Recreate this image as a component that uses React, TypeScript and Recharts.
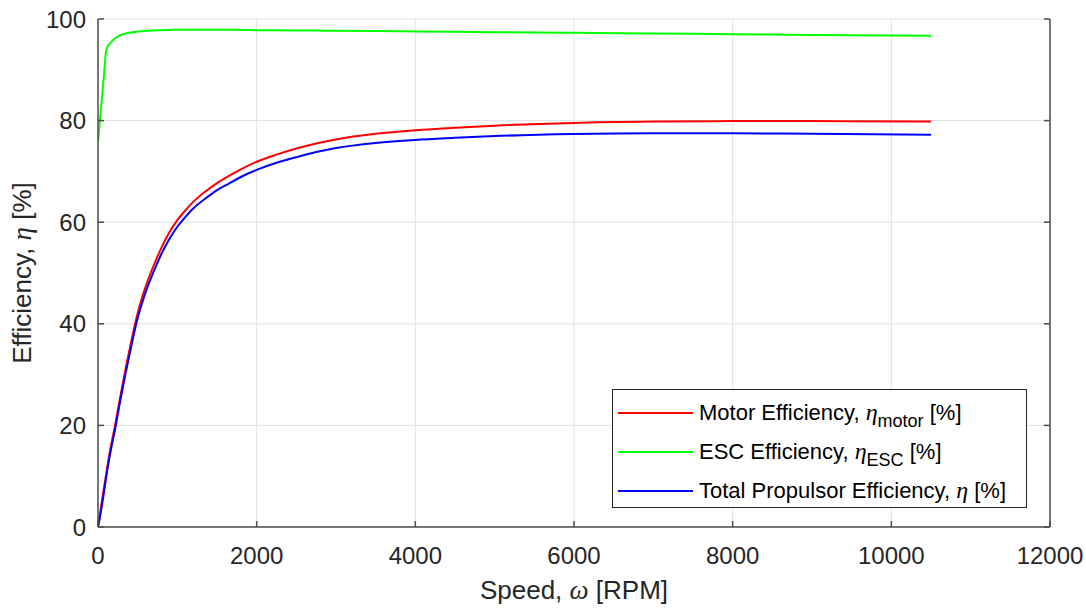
import React from "react";
import {
  LineChart,
  Line,
  XAxis,
  YAxis,
  CartesianGrid,
  Legend,
} from "recharts";

const speedRpm = [
  0, 35, 70, 105, 140, 175, 210, 280, 350, 420, 490, 560, 630, 700, 800, 900,
  1000, 1100, 1200, 1350, 1500, 1650, 1800, 2000, 2250, 2500, 2750, 3000,
  3500, 4000, 4500, 5000, 6000, 7000, 8000, 9000, 10500,
];
const motorEff = [
  0, 3.6, 7.2, 10.6, 14.0, 16.9, 19.6, 25.6, 31.3, 36.6, 41.5, 45.4, 48.6,
  51.4, 55.0, 58.0, 60.4, 62.3, 64.0, 66.0, 67.7, 69.1, 70.4, 71.9, 73.3,
  74.5, 75.5, 76.3, 77.4, 78.1, 78.6, 79.0, 79.55, 79.8, 79.9, 79.9, 79.8,
];
const escEff = [
  75.8, 81.9, 88.0, 94.0, 95.0, 95.6, 96.1, 96.8, 97.15, 97.35, 97.5, 97.6,
  97.7, 97.75, 97.8, 97.85, 97.88, 97.9, 97.9, 97.9, 97.9, 97.88, 97.85, 97.8,
  97.78, 97.75, 97.72, 97.7, 97.62, 97.55, 97.48, 97.4, 97.3, 97.15, 97.0,
  96.85, 96.7,
];
const totalEff = [
  0, 2.9, 6.3, 10.0, 13.3, 16.2, 18.8, 24.8, 30.4, 35.6, 40.5, 44.3, 47.5,
  50.2, 53.8, 56.7, 59.1, 61.0, 62.7, 64.6, 66.3, 67.6, 68.9, 70.3, 71.7,
  72.8, 73.8, 74.6, 75.6, 76.2, 76.6, 76.95, 77.35, 77.5, 77.5, 77.4, 77.2,
];
const xTicks = [0, 2000, 4000, 6000, 8000, 10000, 12000];
const yTicks = [0, 20, 40, 60, 80, 100];
const legendOrder = ["motor", "esc", "total"];

const data = speedRpm.map((rpm, i) => ({
  rpm,
  motor: motorEff[i],
  esc: escEff[i],
  total: totalEff[i],
}));

const FONT = "'Liberation Sans', Arial, Helvetica, sans-serif";
const GREEK = "'Liberation Serif', 'DejaVu Serif', serif";
const AXIS = "#4d4d4d";
const TEXT = "#262626";

const tickStyle = { fill: TEXT, fontSize: 24, fontFamily: FONT };

const Eta = () => (
  <span style={{ fontFamily: GREEK, fontStyle: "italic", fontSize: 24 }}>η</span>
);

const Sub = ({ children }: { children: React.ReactNode }) => (
  <span style={{ fontSize: 18, position: "relative", top: 7 }}>{children}</span>
);

const legendText: Record<string, React.ReactNode> = {
  motor: (
    <>
      Motor Efficiency, <Eta />
      <Sub>motor</Sub> [%]
    </>
  ),
  esc: (
    <>
      ESC Efficiency, <Eta />
      <Sub>ESC</Sub> [%]
    </>
  ),
  total: (
    <>
      Total Propulsor Efficiency, <Eta /> [%]
    </>
  ),
};

function EffLegend(props: any) {
  const payload = props.payload || [];
  const colorOf = (key: string) =>
    (payload.find((p: any) => p.dataKey === key) || {}).color;
  return (
    <div
      style={{
        boxSizing: "border-box",
        width: 415,
        height: 119,
        border: `1px solid ${TEXT}`,
        background: "#fff",
        paddingTop: 3,
        fontFamily: FONT,
        fontSize: 22,
        color: "#000",
      }}
    >
      {legendOrder.map((key) => (
        <div
          key={key}
          style={{ height: 39, display: "flex", alignItems: "center" }}
        >
          <svg width={75} height={4} style={{ marginLeft: 5, marginRight: 6 }}>
            <line x1={0} y1={2} x2={75} y2={2} stroke={colorOf(key)} strokeWidth={2} />
          </svg>
          <span style={{ whiteSpace: "nowrap" }}>{legendText[key]}</span>
        </div>
      ))}
    </div>
  );
}

function XLabel(props: any) {
  const vb = props.viewBox;
  return (
    <text
      x={vb.x + vb.width / 2}
      y={vb.y + 72}
      textAnchor="middle"
      fill={TEXT}
      fontSize={26}
      fontFamily={FONT}
    >
      Speed,{" "}
      <tspan fontFamily={GREEK} fontStyle="italic" fontSize={27}>
        ω
      </tspan>{" "}
      [RPM]
    </text>
  );
}

function YLabel(props: any) {
  const vb = props.viewBox;
  const cx = 22;
  const cy = vb.y + vb.height / 2;
  return (
    <text
      x={cx}
      y={cy}
      transform={`rotate(-90, ${cx}, ${cy})`}
      textAnchor="middle"
      dominantBaseline="central"
      fill={TEXT}
      fontSize={26}
      fontFamily={FONT}
    >
      Efficiency,{" "}
      <tspan fontFamily={GREEK} fontStyle="italic" fontSize={27}>
        η
      </tspan>{" "}
      [%]
    </text>
  );
}

export default function App() {
  return (
    <div style={{ position: "absolute", left: 0, top: 0, background: "#fff" }}>
      <LineChart
        width={1086}
        height={609}
        data={data}
        margin={{ top: 19, right: 0, left: 0, bottom: 0 }}
      >
        <CartesianGrid stroke="#e3e3e3" strokeWidth={1} />
        <XAxis
          dataKey="rpm"
          type="number"
          domain={[0, 12000]}
          ticks={xTicks}
          allowDataOverflow
          height={82}
          stroke={AXIS}
          strokeWidth={1.5}
          tickSize={-6}
          tickMargin={26}
          tick={tickStyle}
          label={<XLabel />}
        />
        <XAxis
          xAxisId="top"
          orientation="top"
          dataKey="rpm"
          type="number"
          domain={[0, 12000]}
          ticks={xTicks}
          allowDataOverflow
          height={0}
          stroke={AXIS}
          strokeWidth={1.5}
          tickSize={-6}
          tickFormatter={() => ""}
        />
        <YAxis
          type="number"
          domain={[0, 100]}
          ticks={yTicks}
          allowDataOverflow
          width={98}
          stroke={AXIS}
          strokeWidth={1.5}
          tickSize={-6}
          tickMargin={18}
          tick={tickStyle}
          label={<YLabel />}
        />
        <YAxis
          yAxisId="right"
          orientation="right"
          type="number"
          domain={[0, 100]}
          ticks={yTicks}
          allowDataOverflow
          width={36}
          stroke={AXIS}
          strokeWidth={1.5}
          tickSize={-6}
          tickFormatter={() => ""}
        />
        <Legend
          layout="vertical"
          align="center"
          verticalAlign="middle"
          content={<EffLegend />}
          wrapperStyle={{ left: 612, top: 389, width: 415 }}
        />
        <Line
          type="monotone"
          dataKey="motor"
          name="Motor Efficiency"
          stroke="#ff0000"
          strokeWidth={2}
          dot={false}
          isAnimationActive={false}
        />
        <Line
          type="monotone"
          dataKey="esc"
          name="ESC Efficiency"
          stroke="#00ff00"
          strokeWidth={2}
          dot={false}
          isAnimationActive={false}
        />
        <Line
          type="monotone"
          dataKey="total"
          name="Total Propulsor Efficiency"
          stroke="#0000ff"
          strokeWidth={2}
          dot={false}
          isAnimationActive={false}
        />
      </LineChart>
    </div>
  );
}
